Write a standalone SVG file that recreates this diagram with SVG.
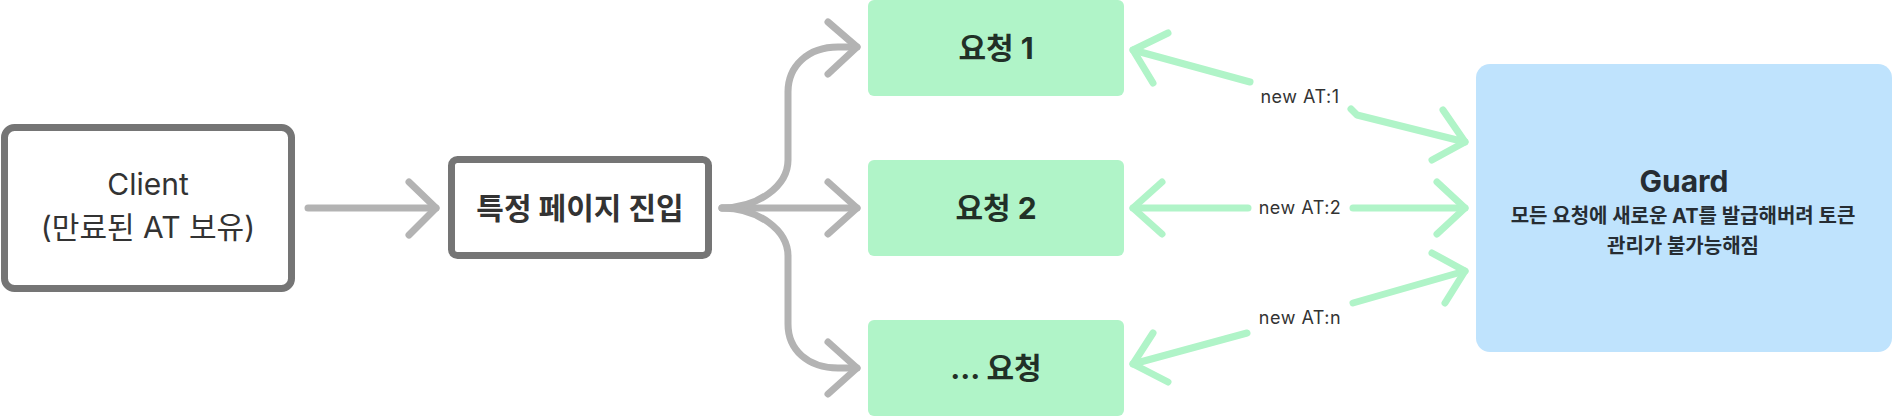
<svg xmlns="http://www.w3.org/2000/svg" width="1892" height="416" viewBox="0 0 1892 416">
  <style>
    .t { font-family: Inter, "Noto Sans CJK KR", sans-serif; }
    .dark { fill: #333333; }
    .gline { fill: none; stroke: #b3b3b3; stroke-width: 7; stroke-linecap: round; stroke-linejoin: round; }
    .greenline { fill: none; stroke: #b0f4c8; stroke-width: 7; stroke-linecap: round; stroke-linejoin: round; }
    .req { fill: #b0f4c8; }
    .reqt { font-size: 30px; font-weight: 700; fill: #213027; }
    .lbl { font-size: 18px; letter-spacing: 0.5px; fill: #333333; }
  </style>
  <rect width="1892" height="416" fill="#ffffff"/>
  <g id="connectors">
    <path class="gline" d="M308,208 L436,208"/>
    <path class="gline" d="M409,182 L436,208 L409,235"/>
    <path class="gline" d="M722,208 C758,208 788,186 788,160 L788,92 C788,66 808,47 838,47 L857,47"/>
    <path class="gline" d="M828,22 L857,47 L828,74"/>
    <path class="gline" d="M722,208 L857,208"/>
    <path class="gline" d="M828,182 L857,208 L828,234"/>
    <path class="gline" d="M722,208 C758,208 788,230 788,256 L788,324 C788,350 808,368 838,368 L857,368"/>
    <path class="gline" d="M828,342 L857,368 L828,394"/>

    <path class="greenline" d="M1250,82 L1133,50"/>
    <path class="greenline" d="M1168,33 L1133,50 L1153,83"/>
    <path class="greenline" d="M1351,109 L1357,115 L1465,142"/>
    <path class="greenline" d="M1443,110 L1465,142 L1432,160"/>
    <text class="t lbl" x="1300" y="103" text-anchor="middle">new AT:1</text>

    <path class="greenline" d="M1248,208 L1133,208"/>
    <path class="greenline" d="M1162,182 L1133,208 L1162,234"/>
    <path class="greenline" d="M1353,208 L1465,208"/>
    <path class="greenline" d="M1437,182 L1465,208 L1437,234"/>
    <text class="t lbl" x="1300" y="214" text-anchor="middle">new AT:2</text>

    <path class="greenline" d="M1353,303 L1465,271"/>
    <path class="greenline" d="M1432,253 L1465,271 L1445,303"/>
    <path class="greenline" d="M1247,333 L1133,364"/>
    <path class="greenline" d="M1153,333 L1133,364 L1168,382"/>
    <text class="t lbl" x="1300" y="324" text-anchor="middle">new AT:n</text>
  </g>
  <g id="client">
    <rect x="4.5" y="127.5" width="287" height="161" rx="10" fill="#ffffff" stroke="#757575" stroke-width="7"/>
    <text class="t dark" x="148" y="195" font-size="30" text-anchor="middle">Client</text>
    <text class="t dark" x="148" y="238" font-size="30" text-anchor="middle">(만료된 AT 보유)</text>
  </g>
  <g id="enter-page">
    <rect x="451.5" y="159.5" width="257" height="96" rx="6" fill="#ffffff" stroke="#757575" stroke-width="7"/>
    <text class="t dark" x="580" y="219" font-size="30" font-weight="700" text-anchor="middle">특정 페이지 진입</text>
  </g>
  <g id="request-1">
    <rect class="req" x="868" y="0" width="256" height="96" rx="6"/>
    <text class="t reqt" x="996" y="59" text-anchor="middle">요청 1</text>
  </g>
  <g id="request-2">
    <rect class="req" x="868" y="160" width="256" height="96" rx="6"/>
    <text class="t reqt" x="996" y="219" text-anchor="middle">요청 2</text>
  </g>
  <g id="request-n">
    <rect class="req" x="868" y="320" width="256" height="96" rx="6"/>
    <text class="t reqt" x="996" y="379" text-anchor="middle">... 요청</text>
  </g>
  <g id="guard">
    <rect x="1476" y="64" width="416" height="288" rx="14" fill="#bfe3fd"/>
    <text class="t" x="1684" y="192" font-size="30" font-weight="700" fill="#262d33" text-anchor="middle">Guard</text>
    <text class="t" x="1683" y="223" font-size="20" font-weight="700" fill="#262d33" text-anchor="middle">모든 요청에 새로운 AT를 발급해버려 토큰</text>
    <text class="t" x="1683" y="253" font-size="20" font-weight="700" fill="#262d33" text-anchor="middle">관리가 불가능해짐</text>
  </g>
</svg>
